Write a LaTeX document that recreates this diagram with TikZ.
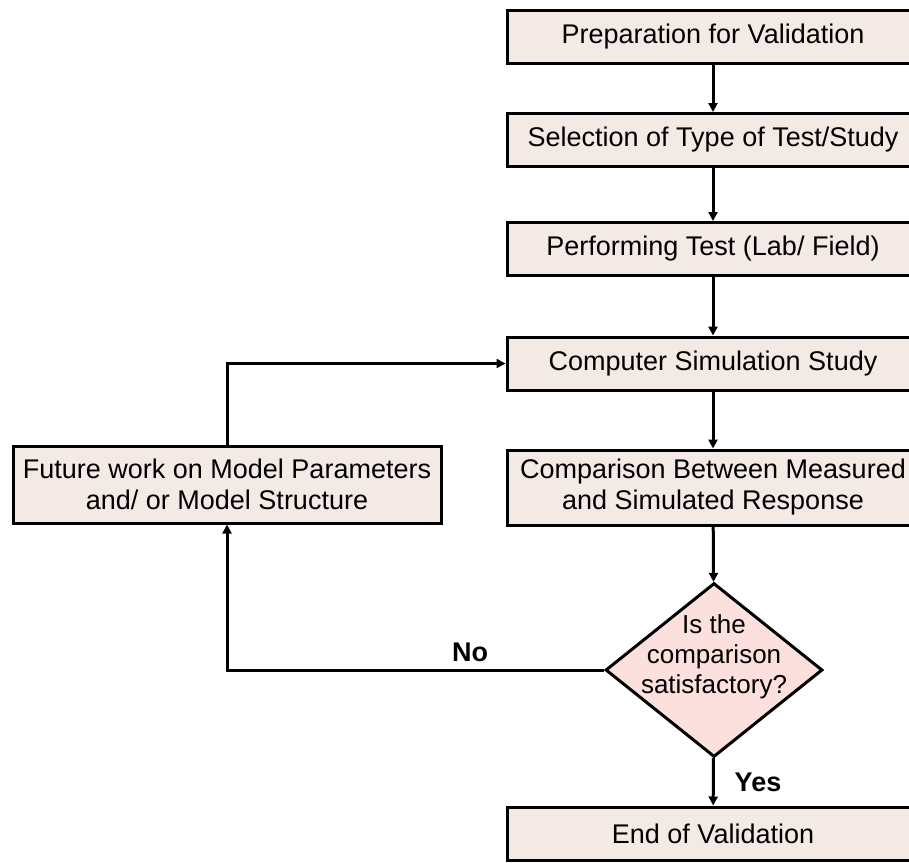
\documentclass[tikz,border=0pt]{standalone}
\usepackage{fontspec}
\setmainfont{Liberation Sans}
\usetikzlibrary{shapes.geometric, arrows.meta}
\definecolor{boxfill}{HTML}{F3EAE5}
\definecolor{decfill}{HTML}{FCE0DD}

\begin{document}
\begin{tikzpicture}[x=0.5pt, y=-0.5pt, font=\fontsize{13.5}{15.5}\selectfont,
    stepbox/.style={draw, line width=1.5pt, fill=boxfill, minimum width=206pt, minimum height=26.5pt, inner sep=0pt, align=center},
    arr/.style={-{Triangle[length=4.5pt,width=4.5pt]}, line width=1.5pt}]
        \useasboundingbox (0,0) rectangle (909,862);
        \clip (0,0) rectangle (909,862);
        % main column
        \node[stepbox] (prep) at (713,36.5) {Preparation for Validation};
        \node[stepbox] (sel) at (713,140) {Selection of Type of Test/Study};
        \node[stepbox] (test) at (713,249) {Performing Test (Lab/ Field)};
        \node[stepbox] (sim) at (713,363.5) {Computer Simulation Study};
        \node[stepbox, minimum height=37.5pt] (cmp) at (713,487.5) {Comparison Between Measured\\and Simulated Response};
        \node[draw, diamond, line width=1.5pt, fill=decfill, minimum width=108.5pt, minimum height=87pt, inner sep=0pt] (dec) at (714,670) {};
        \node[align=center, font=\fontsize{13}{15}\selectfont] (dectext) at (714,657) {Is the\\comparison\\satisfactory?};
        \node[stepbox] (end) at (713,833.5) {End of Validation};
        % feedback box
        \node[stepbox, minimum width=214pt, minimum height=38.5pt] (fut) at (227,484.5) {Future work on Model Parameters\\and/ or Model Structure};
        % arrows
        \draw[arr] (prep) -- (sel);
        \draw[arr] (sel) -- (test);
        \draw[arr] (test) -- (sim);
        \draw[arr] (sim) -- (cmp);
        \draw[arr] (cmp) -- (dec);
        \draw[arr] (dec) -- (end);
        \draw[arr] (dec.west) -| (fut.south);
        \draw[arr] (fut.north) |- (sim.west);
        \node[font=\fontsize{13.5}{15.5}\selectfont\bfseries] (no) at (470,652) {No};
        \node[font=\fontsize{13.5}{15.5}\selectfont\bfseries] (yes) at (758,782) {Yes};
\end{tikzpicture}
\end{document}
